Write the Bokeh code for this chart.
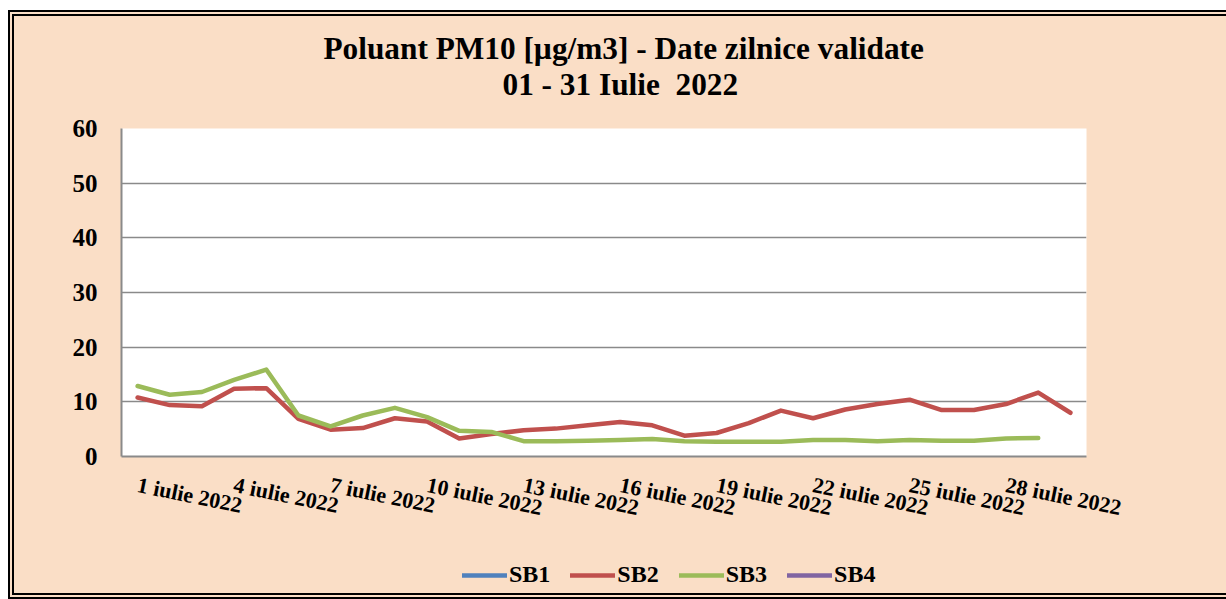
from bokeh.plotting import figure
from bokeh.layouts import column
from bokeh.models import (Range1d, FixedTicker, Legend, LegendItem, Title,
                          ColumnDataSource)
from bokeh.embed import file_html
from bokeh.resources import INLINE

# ---- data ----
days = list(range(1, 31))
tick_days = [1, 4, 7, 10, 13, 16, 19, 22, 25, 28]
tick_labels = [f"{d} iulie 2022" for d in tick_days]
sb1 = []
sb2 = [10.8, 9.4, 9.2, 12.4, 12.5, 6.9, 4.9, 5.2, 7.0, 6.4,
       3.3, 4.1, 4.8, 5.1, 5.7, 6.3, 5.7, 3.8, 4.3, 6.1,
       8.4, 7.0, 8.6, 9.6, 10.4, 8.5, 8.5, 9.6, 11.7, 8.0]
sb3 = [12.9, 11.3, 11.8, 14.0, 15.9, 7.5, 5.5, 7.5, 8.9, 7.2,
       4.7, 4.5, 2.8, 2.8, 2.9, 3.0, 3.2, 2.8, 2.7, 2.7,
       2.7, 3.0, 3.0, 2.8, 3.0, 2.9, 2.9, 3.3, 3.4]
sb4 = []
series_names = ["SB1", "SB2", "SB3", "SB4"]
series_colors = ["#4F81BD", "#C0504D", "#9BBB59", "#8064A2"]
title_line1 = "Poluant PM10 [µg/m3] - Date zilnice validate"
title_line2 = "01 - 31 Iulie \u00a02022"

PEACH = "#FADEC6"
GRID = "#8A8A8A"
FONT = "Liberation Serif"

# ---- main chart ----
p = figure(width=1212, height=529, output_backend="svg", toolbar_location=None,
           title=None,
           x_range=Range1d(0.5, 30.5), y_range=Range1d(0, 60),
           min_border_left=107, min_border_right=140,
           min_border_top=112, min_border_bottom=89,
           background_fill_color="white", border_fill_color=PEACH)
p.outline_line_color = None

for name, vals, col in zip(series_names, [sb1, sb2, sb3, sb4], series_colors):
    src = ColumnDataSource(dict(x=days[:len(vals)], y=vals))
    p.line("x", "y", source=src, line_color=col, line_width=4.5,
           line_join="round", line_cap="round")

p.xaxis.ticker = FixedTicker(ticks=tick_days)
p.xaxis.major_label_overrides = {d: lab for d, lab in zip(tick_days, tick_labels)}
p.xaxis.major_label_orientation = -0.2
p.yaxis.ticker = FixedTicker(ticks=[0, 10, 20, 30, 40, 50, 60])
for ax in (p.xaxis[0], p.yaxis[0]):
    ax.axis_line_color = GRID
    ax.axis_line_width = 2
    ax.major_tick_in = 0
    ax.major_tick_out = 0
    ax.minor_tick_line_color = None
    ax.major_label_text_font = FONT
    ax.major_label_text_font_style = "bold"
    ax.major_label_text_color = "black"
p.yaxis.major_label_text_font_size = "25px"
p.yaxis.major_label_standoff = 24
p.xaxis.major_label_text_font_size = "22px"
p.xaxis.major_label_standoff = 28

p.xgrid.grid_line_color = None
p.ygrid.grid_line_color = GRID
p.ygrid.grid_line_width = 1.5

p.add_layout(Title(text=title_line2, align="left", offset=381,
                   text_font=FONT, text_font_size="31.3px", text_color="black",
                   text_font_style="bold", standoff=54), "above")
p.add_layout(Title(text=title_line1, align="left", offset=202,
                   text_font=FONT, text_font_size="31.3px", text_color="black",
                   text_font_style="bold", standoff=-56), "above")

# ---- legend strip ----
lg = figure(width=1212, height=48, output_backend="svg", toolbar_location=None,
            title=None, x_range=Range1d(0, 1), y_range=Range1d(0, 1),
            min_border=0, background_fill_alpha=0, border_fill_color=PEACH)
lg.outline_line_color = None
lg.axis.visible = False
lg.grid.visible = False
items = []
for name, col in zip(series_names, series_colors):
    r = lg.line(x=[float("nan")], y=[float("nan")], line_color=col,
                line_width=4.5, line_cap="round")
    items.append(LegendItem(label=name, renderers=[r]))
legend = Legend(items=items, orientation="horizontal", location=(341, 5),
                background_fill_alpha=0, border_line_alpha=0,
                padding=0, margin=0, spacing=20,
                glyph_width=45, glyph_height=20, label_standoff=2,
                label_text_font=FONT, label_text_font_style="bold",
                label_text_color="black", label_text_font_size="24px")
lg.add_layout(legend, "center")

layout = column(p, lg, spacing=0)
layout.styles = {"margin-left": "8px", "margin-top": "10px",
                 "background-color": PEACH,
                 "border-left": "6px double black",
                 "border-top": "6px double black",
                 "border-bottom": "6px double black",
                 "border-right": "0px"}

open("out.html", "w").write(file_html(layout, INLINE))
